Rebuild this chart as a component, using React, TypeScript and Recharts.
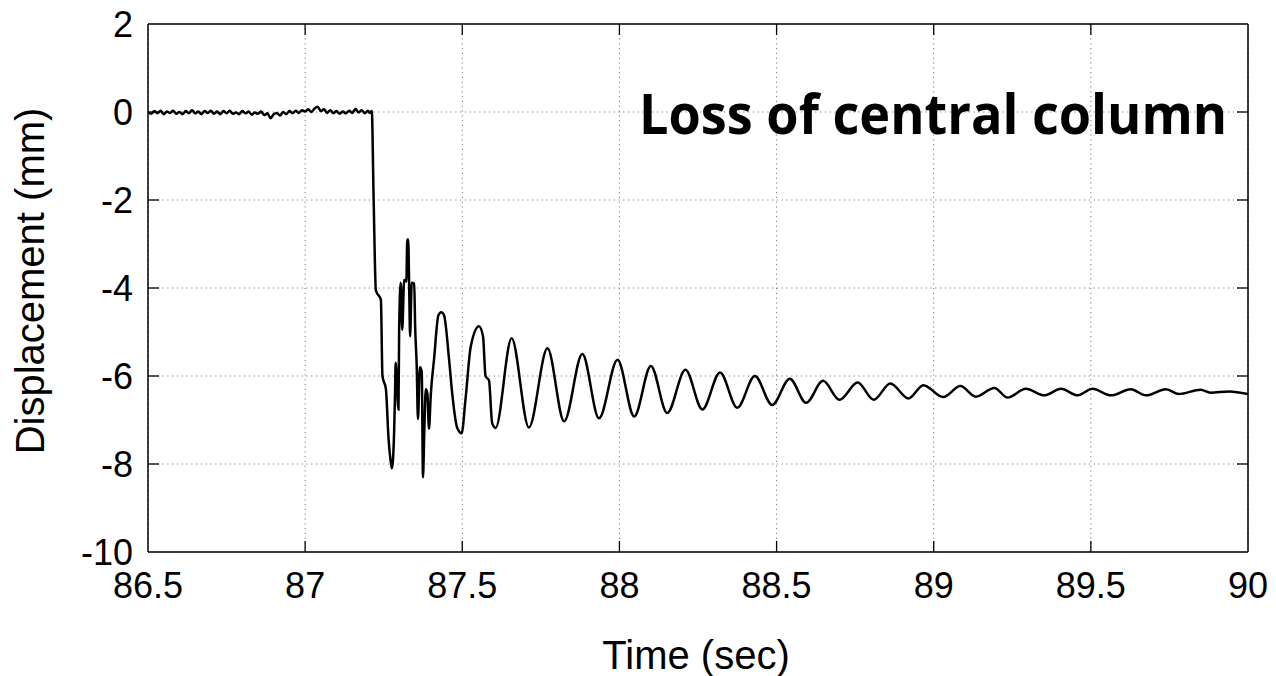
import React from 'react';
import { LineChart, Line, XAxis, YAxis, CartesianGrid } from 'recharts';

// ---- Pre-event segment (column still in place): time (s) / displacement (mm)
const preTime = [
  86.5, 86.51, 86.52, 86.53, 86.54, 86.55, 86.56, 86.57, 86.58, 86.59,
  86.6, 86.61, 86.62, 86.63, 86.64, 86.65, 86.66, 86.67, 86.68, 86.69,
  86.7, 86.71, 86.72, 86.73, 86.74, 86.75, 86.76, 86.77, 86.78, 86.79,
  86.8, 86.81, 86.82, 86.83, 86.84, 86.85, 86.86, 86.87, 86.88, 86.89,
  86.9, 86.91, 86.92, 86.93, 86.94, 86.95, 86.96, 86.97, 86.98, 86.99,
  87.0, 87.01, 87.02, 87.03, 87.04, 87.05, 87.06, 87.07, 87.08, 87.09,
  87.1, 87.11, 87.12, 87.13, 87.14, 87.15, 87.16, 87.17, 87.18, 87.19,
  87.2, 87.205, 87.212,
];
const preDisp = [
  0.0, -0.04, 0.02, -0.03, 0.03, -0.05, 0.01, -0.02, 0.03, -0.04,
  0.0, -0.05, 0.02, -0.03, 0.04, -0.03, 0.01, -0.05, 0.02, -0.02,
  0.03, -0.04, 0.01, -0.05, 0.02, -0.03, 0.03, -0.04, -0.01, -0.05,
  0.02, -0.03, 0.01, -0.06, -0.01, -0.04, 0.01, -0.07, -0.03, -0.14,
  -0.05, -0.02, -0.08, 0.0, -0.05, 0.02, -0.03, 0.03, -0.02, 0.04,
  0.01, 0.06, 0.0, 0.08, 0.12, 0.02, 0.06, -0.02, 0.04, -0.03,
  0.02, -0.04, 0.01, -0.03, 0.03, -0.02, 0.07, -0.01, 0.04, -0.03,
  0.03, -0.02, 0.02,
];

// ---- Impact segment (sudden drop and chaotic response)
const impactTime = [
  87.218, 87.225, 87.241, 87.246, 87.257, 87.265, 87.273, 87.276, 87.283, 87.286,
  87.288, 87.297, 87.299, 87.304, 87.309, 87.315, 87.322, 87.325, 87.328, 87.331,
  87.334, 87.339, 87.347, 87.35, 87.355, 87.359, 87.365, 87.371, 87.375, 87.379,
  87.384, 87.389, 87.394, 87.4, 87.41, 87.424, 87.433, 87.442, 87.458, 87.468, 87.484,
  87.498, 87.51, 87.527, 87.553, 87.566, 87.574, 87.585, 87.595, 87.606,
];
const impactDisp = [
  -2.0, -4.05, -4.27, -6.0, -6.3, -7.38, -7.98, -8.1, -7.3, -6.4,
  -5.7, -6.76, -5.0, -3.88, -4.95, -3.82, -3.85, -2.9, -2.9, -3.97,
  -5.1, -3.88, -3.9, -4.87, -5.77, -6.98, -5.8, -5.9, -8.3, -7.3,
  -6.3, -6.4, -7.2, -6.4, -5.63, -4.62, -4.55, -4.62, -5.63, -6.4, -7.18,
  -7.3, -6.55, -5.33, -4.87, -5.1, -6.0, -6.1, -7.07, -7.18,
];

// ---- Decaying oscillation (peaks and troughs)
const decayTime = [
  87.657, 87.712, 87.771, 87.824, 87.882, 87.935, 87.994, 88.047, 88.1, 88.152,
  88.21, 88.264, 88.32, 88.375, 88.431, 88.486, 88.542, 88.594, 88.648, 88.7,
  88.758, 88.809, 88.862, 88.92, 88.967, 89.03, 89.085, 89.134, 89.193, 89.235,
  89.293, 89.352, 89.405, 89.458, 89.505, 89.564, 89.627, 89.675, 89.739, 89.78,
  89.849, 89.88, 89.94, 90.0,
];
const decayDisp = [
  -5.14, -7.17, -5.37, -7.03, -5.5, -6.96, -5.63, -6.92, -5.77, -6.84,
  -5.86, -6.76, -5.92, -6.72, -6.0, -6.66, -6.06, -6.61, -6.11, -6.54,
  -6.15, -6.54, -6.17, -6.51, -6.21, -6.48, -6.23, -6.47, -6.27, -6.49,
  -6.29, -6.44, -6.29, -6.44, -6.29, -6.44, -6.3, -6.44, -6.3, -6.41,
  -6.31, -6.38, -6.35, -6.41,
];

// ---- Axis ticks
const xTicks = [86.5, 87, 87.5, 88, 88.5, 89, 89.5, 90];
const xTickLabels = ['86.5', '87', '87.5', '88', '88.5', '89', '89.5', '90'];
const yTicks = [2, 0, -2, -4, -6, -8, -10];
const yTickLabels = ['2', '0', '-2', '-4', '-6', '-8', '-10'];

const xLabel = 'Time (sec)';
const yLabel = 'Displacement (mm)';
const title = 'Loss of central column';

const allTime = [...preTime, ...impactTime, ...decayTime];
const allDisp = [...preDisp, ...impactDisp, ...decayDisp];
const data = allTime.map((t, i) => ({ t, d: allDisp[i] }));

const FONT = '"Liberation Sans", Arial, Helvetica, sans-serif';
const FS = 36;
const TL = 11;

const BottomTick = (props: any) => {
  const { x, y, payload } = props;
  const i = xTicks.indexOf(payload.value);
  const edge = i === 0 || i === xTicks.length - 1;
  return (
    <g>
      {!edge && <line x1={x} x2={x} y1={y} y2={y - TL} stroke="#000" strokeWidth={1.3} />}
      <text x={x} y={y + 46} textAnchor="middle" fontFamily={FONT} fontSize={FS} fill="#000">
        {xTickLabels[i]}
      </text>
    </g>
  );
};

const TopTick = (props: any) => {
  const { x, y, payload } = props;
  const i = xTicks.indexOf(payload.value);
  const edge = i === 0 || i === xTicks.length - 1;
  if (edge) return <g />;
  return <line x1={x} x2={x} y1={y} y2={y + TL} stroke="#000" strokeWidth={1.3} />;
};

const LeftTick = (props: any) => {
  const { x, y, payload } = props;
  const i = yTicks.indexOf(payload.value);
  const edge = i === 0 || i === yTicks.length - 1;
  return (
    <g>
      {!edge && <line x1={x} x2={x + TL} y1={y} y2={y} stroke="#000" strokeWidth={1.3} />}
      <text x={x - 15} y={y} dy="0.36em" textAnchor="end" fontFamily={FONT} fontSize={FS} fill="#000">
        {yTickLabels[i]}
      </text>
    </g>
  );
};

const RightTick = (props: any) => {
  const { x, y, payload } = props;
  const i = yTicks.indexOf(payload.value);
  const edge = i === 0 || i === yTicks.length - 1;
  if (edge) return <g />;
  return <line x1={x} x2={x - TL} y1={y} y2={y} stroke="#000" strokeWidth={1.3} />;
};

const XAxisLabel = () => (
  <text x={696} y={669} textAnchor="middle" fontFamily={FONT} fontSize={40} fill="#000">
    {xLabel}
  </text>
);

const YAxisLabel = () => (
  <text
    x={44}
    y={281}
    textAnchor="middle"
    transform="rotate(-90, 44, 281)"
    fontFamily={FONT}
    fontSize={40}
    fill="#000"
  >
    {yLabel}
  </text>
);

const TitleLabel = () => (
  <text
    x={639}
    y={134}
    textLength={588}
    lengthAdjust="spacingAndGlyphs"
    fontFamily='"Open Sans", "Noto Sans", sans-serif'
    fontWeight={700}
    fontSize={56}
    fill="#000"
  >
    {title}
  </text>
);

export default function App() {
  return (
    <div style={{ position: 'absolute', left: 0, top: 0, width: 1276, height: 676, background: '#fff' }}>
      <LineChart width={1276} height={676} data={data} margin={{ top: 0, right: 0, bottom: 0, left: 0 }}>
        <CartesianGrid stroke="#7a7a7a" strokeWidth={1} strokeDasharray="1.2 3.6" />
        <XAxis
          dataKey="t"
          type="number"
          domain={[86.5, 90]}
          ticks={xTicks}
          allowDataOverflow
          height={124}
          tickSize={0}
          tickMargin={0}
          tickLine={false}
          axisLine={{ stroke: '#000', strokeWidth: 1.5 }}
          tick={<BottomTick />}
          interval={0}
          label={<XAxisLabel />}
        />
        <XAxis
          xAxisId="top"
          orientation="top"
          dataKey="t"
          type="number"
          domain={[86.5, 90]}
          ticks={xTicks}
          allowDataOverflow
          height={24}
          tickSize={0}
          tickMargin={0}
          tickLine={false}
          axisLine={{ stroke: '#000', strokeWidth: 1.5 }}
          tick={<TopTick />}
          interval={0}
          label={<TitleLabel />}
        />
        <YAxis
          type="number"
          domain={[-10, 2]}
          ticks={yTicks}
          allowDataOverflow
          width={148}
          tickSize={0}
          tickMargin={0}
          tickLine={false}
          axisLine={{ stroke: '#000', strokeWidth: 1.5 }}
          tick={<LeftTick />}
          interval={0}
          label={<YAxisLabel />}
        />
        <YAxis
          yAxisId="right"
          orientation="right"
          type="number"
          domain={[-10, 2]}
          ticks={yTicks}
          allowDataOverflow
          width={28}
          tickSize={0}
          tickMargin={0}
          tickLine={false}
          axisLine={{ stroke: '#000', strokeWidth: 1.5 }}
          tick={<RightTick />}
          interval={0}
        />
        <Line
          dataKey="d"
          type="monotone"
          stroke="#000"
          strokeWidth={2.5}
          dot={false}
          isAnimationActive={false}
        />
      </LineChart>
    </div>
  );
}
